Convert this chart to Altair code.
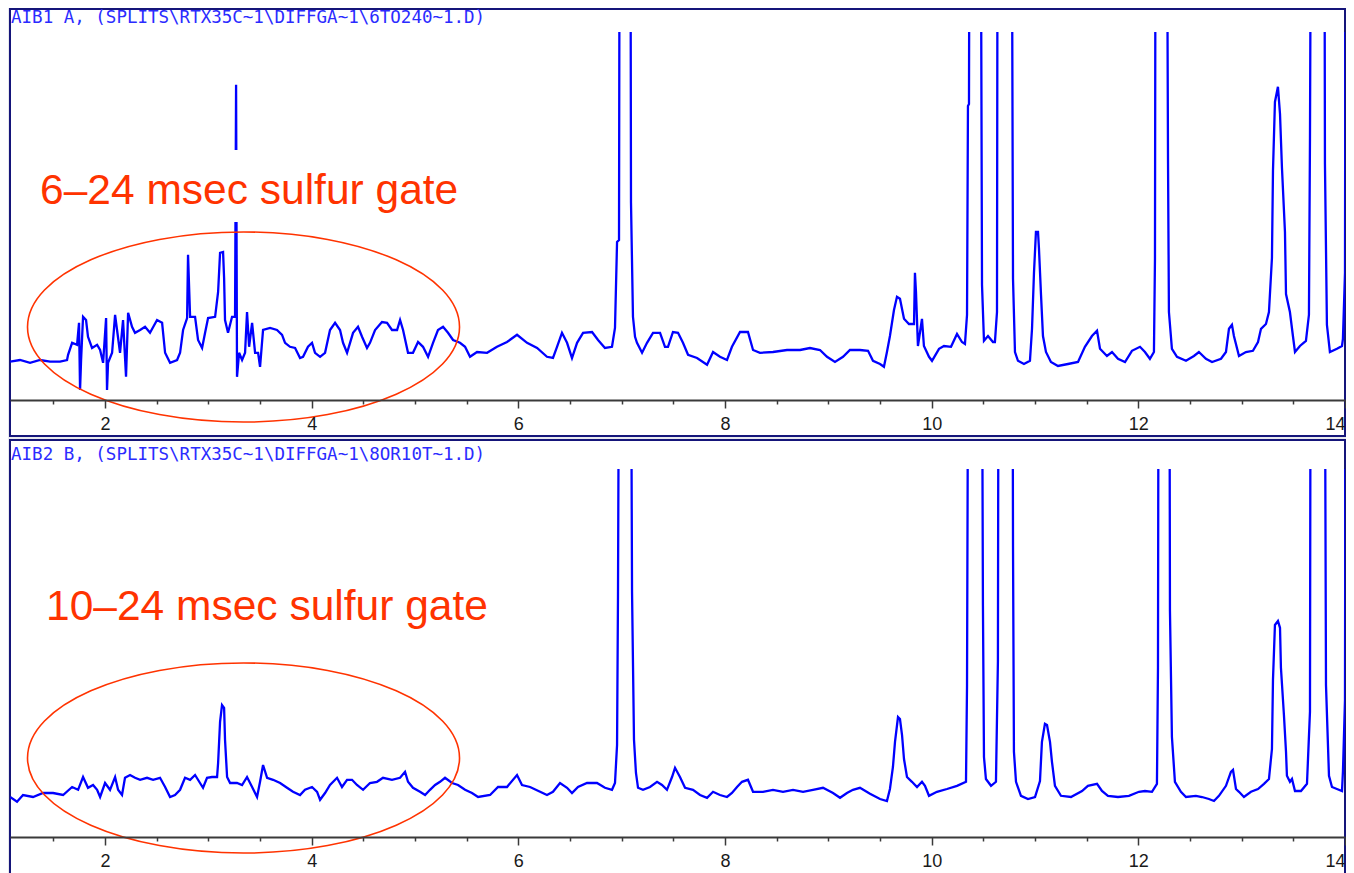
import altair as alt
import pandas as pd

# ---------------- data ----------------
TIME_A = [
    1.081, 1.177, 1.274, 1.371, 1.468, 1.564, 1.632, 1.642, 1.681, 1.729,
    1.748, 1.758, 1.768, 1.787, 1.816, 1.835, 1.874, 1.923, 1.952, 1.981,
    2.010, 2.019, 2.029, 2.068, 2.097, 2.116, 2.145, 2.174, 2.203, 2.223,
    2.261, 2.290, 2.339, 2.387, 2.435, 2.503, 2.552, 2.581, 2.629, 2.697,
    2.726, 2.755, 2.794, 2.803, 2.823, 2.871, 2.900, 2.939, 2.968, 2.997,
    3.065, 3.094, 3.113, 3.142, 3.152, 3.161, 3.190, 3.229, 3.258, 3.268,
    3.277, 3.297, 3.326, 3.355, 3.374, 3.394, 3.423, 3.452, 3.481, 3.500,
    3.529, 3.597, 3.664, 3.713, 3.742, 3.790, 3.839, 3.887, 3.916, 3.964,
    4.003, 4.032, 4.081, 4.129, 4.177, 4.226, 4.274, 4.303, 4.342, 4.371,
    4.400, 4.448, 4.487, 4.535, 4.564, 4.613, 4.680, 4.729, 4.777, 4.826,
    4.855, 4.884, 4.932, 4.980, 5.029, 5.077, 5.126, 5.174, 5.222, 5.271,
    5.319, 5.368, 5.435, 5.484, 5.532, 5.600, 5.697, 5.793, 5.890, 5.987,
    6.084, 6.181, 6.277, 6.335, 6.374, 6.422, 6.471, 6.519, 6.568, 6.626,
    6.713, 6.771, 6.838, 6.906, 6.935, 6.955, 6.974, 6.984, 7.080, 7.090,
    7.109, 7.129, 7.148, 7.197, 7.245, 7.303, 7.371, 7.419, 7.448, 7.496,
    7.545, 7.593, 7.642, 7.729, 7.826, 7.884, 7.951, 8.019, 8.067, 8.145,
    8.222, 8.271, 8.338, 8.464, 8.600, 8.726, 8.822, 8.919, 8.987, 9.064,
    9.142, 9.209, 9.306, 9.384, 9.432, 9.500, 9.538, 9.567, 9.596, 9.635,
    9.664, 9.693, 9.732, 9.780, 9.829, 9.838, 9.848, 9.867, 9.906, 9.925,
    9.974, 10.003, 10.071, 10.119, 10.187, 10.245, 10.293, 10.322, 10.342, 10.351,
    10.361, 10.371, 10.467, 10.487, 10.506, 10.545, 10.593, 10.612, 10.632, 10.641,
    10.767, 10.787, 10.806, 10.835, 10.893, 10.951, 10.971, 10.990, 11.009, 11.029,
    11.038, 11.058, 11.077, 11.106, 11.154, 11.222, 11.319, 11.416, 11.483, 11.551,
    11.600, 11.629, 11.696, 11.745, 11.803, 11.871, 11.938, 12.016, 12.064, 12.112,
    12.151, 12.161, 12.170, 12.267, 12.287, 12.296, 12.325, 12.374, 12.461, 12.538,
    12.586, 12.654, 12.713, 12.800, 12.848, 12.877, 12.906, 12.925, 12.974, 13.041,
    13.109, 13.158, 13.187, 13.235, 13.264, 13.293, 13.303, 13.322, 13.351, 13.371,
    13.390, 13.419, 13.429, 13.467, 13.496, 13.516, 13.564, 13.622, 13.651, 13.661,
    13.680, 13.796, 13.806, 13.825, 13.854, 13.922, 13.971, 13.980, 14.000, 14.009,
]
SIGNAL_A = [
    9.6, 10.0, 9.3, 10.0, 9.6, 9.6, 10.0, 11.3, 14.3, 13.8,
    19.3, 2.5, 10.0, 20.8, 20.0, 15.8, 13.0, 13.8, 12.5, 9.3,
    20.5, 2.5, 9.3, 11.8, 21.3, 17.5, 11.8, 20.0, 5.8, 21.8,
    18.3, 16.8, 17.5, 18.3, 16.8, 20.0, 19.3, 11.8, 9.3, 10.0,
    11.8, 17.5, 20.5, 36.3, 20.8, 20.8, 15.0, 13.0, 16.8, 20.5,
    20.8, 27.0, 36.8, 37.0, 30.5, 20.0, 16.8, 20.8, 20.8, 78.8,
    5.8, 11.8, 10.0, 11.8, 22.0, 13.3, 19.3, 11.8, 11.8, 8.3,
    17.5, 18.0, 17.5, 16.3, 14.3, 13.3, 13.0, 10.5, 10.8, 13.3,
    14.3, 11.8, 10.8, 11.8, 17.5, 19.3, 17.5, 14.3, 11.8, 14.3,
    16.8, 18.3, 15.8, 13.0, 14.3, 17.5, 19.5, 19.3, 17.5, 17.5,
    20.0, 17.5, 11.8, 11.8, 14.5, 13.3, 10.8, 14.3, 17.5, 18.3,
    16.8, 15.0, 14.3, 13.3, 10.8, 12.0, 11.8, 13.3, 14.5, 16.3,
    14.3, 13.0, 10.8, 10.5, 13.3, 16.8, 14.3, 10.5, 14.3, 16.8,
    17.0, 15.0, 13.0, 13.3, 18.0, 39.5, 40.0, 200, 200, 49.3,
    20.8, 15.8, 14.3, 11.8, 14.3, 16.8, 16.8, 13.3, 13.3, 17.0,
    16.8, 14.3, 11.3, 10.5, 8.8, 12.0, 10.8, 10.0, 13.3, 17.0,
    17.0, 12.5, 11.8, 12.0, 12.5, 12.5, 13.0, 12.5, 10.8, 9.5,
    10.8, 12.5, 12.5, 12.3, 9.8, 9.0, 8.3, 12.0, 16.0, 22.5,
    25.8, 25.3, 20.3, 19.0, 19.0, 31.8, 27.0, 13.5, 20.3, 13.5,
    10.8, 9.8, 12.8, 13.5, 13.3, 16.5, 14.5, 14.0, 21.3, 73.5,
    74.0, 200, 200, 28.8, 14.8, 16.0, 14.5, 14.5, 22.0, 200,
    200, 30.3, 12.0, 9.8, 9.0, 9.8, 17.8, 31.8, 42.0, 42.0,
    38.0, 26.3, 16.0, 12.0, 9.5, 8.5, 9.0, 9.5, 13.3, 16.0,
    17.3, 12.8, 11.0, 12.0, 10.3, 9.5, 12.3, 13.3, 12.0, 10.3,
    12.0, 35.5, 200, 200, 60.5, 22.0, 12.8, 10.8, 9.8, 11.0,
    12.0, 10.3, 9.5, 10.3, 12.0, 17.8, 18.8, 16.0, 11.0, 12.0,
    12.3, 14.5, 17.8, 19.0, 22.0, 35.5, 57.3, 74.5, 78.3, 71.5,
    58.0, 42.0, 26.5, 22.0, 16.0, 12.0, 13.5, 14.8, 21.3, 65.3,
    200, 200, 59.0, 18.8, 12.0, 12.8, 13.5, 15.3, 31.8, 200,
]

TIME_B = [
    1.081, 1.148, 1.206, 1.303, 1.400, 1.497, 1.594, 1.681, 1.739, 1.787,
    1.835, 1.884, 1.923, 1.952, 2.000, 2.048, 2.097, 2.126, 2.164, 2.193,
    2.242, 2.290, 2.339, 2.406, 2.465, 2.532, 2.581, 2.629, 2.677, 2.726,
    2.774, 2.823, 2.871, 2.919, 2.948, 2.987, 3.035, 3.084, 3.094, 3.113,
    3.132, 3.152, 3.161, 3.181, 3.210, 3.277, 3.326, 3.374, 3.423, 3.471,
    3.500, 3.529, 3.568, 3.626, 3.694, 3.761, 3.819, 3.887, 3.935, 4.003,
    4.052, 4.081, 4.129, 4.177, 4.245, 4.293, 4.342, 4.390, 4.438, 4.497,
    4.564, 4.632, 4.690, 4.777, 4.855, 4.903, 4.932, 4.980, 5.048, 5.097,
    5.145, 5.194, 5.242, 5.290, 5.358, 5.416, 5.484, 5.551, 5.610, 5.726,
    5.803, 5.890, 5.987, 6.035, 6.113, 6.210, 6.277, 6.335, 6.403, 6.471,
    6.519, 6.577, 6.664, 6.761, 6.838, 6.906, 6.935, 6.955, 6.964, 6.984,
    7.080, 7.100, 7.119, 7.138, 7.158, 7.206, 7.274, 7.342, 7.390, 7.438,
    7.487, 7.516, 7.564, 7.613, 7.690, 7.758, 7.826, 7.884, 7.951, 8.019,
    8.067, 8.116, 8.164, 8.222, 8.271, 8.367, 8.464, 8.561, 8.658, 8.755,
    8.851, 8.948, 9.045, 9.113, 9.180, 9.238, 9.306, 9.403, 9.500, 9.567,
    9.596, 9.625, 9.645, 9.674, 9.693, 9.713, 9.732, 9.761, 9.809, 9.858,
    9.906, 9.935, 9.974, 10.051, 10.148, 10.245, 10.332, 10.342, 10.361, 10.477,
    10.496, 10.506, 10.525, 10.574, 10.622, 10.641, 10.651, 10.777, 10.787, 10.796,
    10.816, 10.864, 10.932, 11.000, 11.048, 11.067, 11.096, 11.116, 11.145, 11.164,
    11.193, 11.251, 11.348, 11.455, 11.512, 11.600, 11.648, 11.706, 11.803, 11.909,
    12.006, 12.064, 12.132, 12.180, 12.190, 12.200, 12.296, 12.306, 12.325, 12.354,
    12.412, 12.461, 12.557, 12.616, 12.683, 12.732, 12.780, 12.848, 12.896, 12.916,
    12.945, 12.974, 13.022, 13.090, 13.158, 13.216, 13.264, 13.293, 13.303, 13.322,
    13.351, 13.371, 13.380, 13.409, 13.429, 13.438, 13.467, 13.487, 13.516, 13.574,
    13.632, 13.661, 13.671, 13.796, 13.816, 13.845, 13.874, 13.922, 13.971, 13.980,
    14.000, 14.009,
]
SIGNAL_B = [
    10.0, 8.8, 10.5, 10.0, 11.0, 11.0, 10.5, 12.5, 11.8, 15.0,
    12.3, 13.0, 11.8, 10.0, 13.5, 11.8, 15.0, 11.8, 10.5, 14.8,
    15.5, 14.8, 14.3, 14.8, 14.3, 14.8, 12.5, 10.0, 10.5, 11.8,
    14.8, 14.3, 15.5, 13.5, 12.3, 14.8, 15.0, 15.0, 18.5, 28.8,
    33.0, 32.3, 24.3, 15.0, 13.5, 13.5, 13.0, 15.0, 12.5, 10.0,
    13.8, 18.0, 14.8, 14.3, 13.5, 12.3, 11.3, 10.5, 11.8, 12.5,
    11.3, 9.3, 11.0, 13.0, 14.8, 12.5, 14.3, 14.3, 13.0, 11.8,
    13.5, 13.8, 14.8, 14.3, 14.8, 16.3, 13.8, 12.3, 11.3, 10.5,
    11.8, 13.0, 13.8, 14.8, 13.5, 13.0, 11.8, 11.0, 10.0, 10.5,
    12.5, 12.5, 15.5, 13.0, 12.5, 11.3, 10.5, 11.3, 13.5, 12.3,
    11.0, 12.5, 13.5, 13.5, 12.3, 11.8, 13.5, 23.0, 60.0, 200,
    200, 61.3, 24.3, 16.0, 12.3, 11.8, 12.5, 13.8, 13.0, 11.8,
    15.0, 17.3, 15.0, 12.3, 11.8, 10.5, 9.8, 11.3, 10.5, 10.0,
    11.0, 12.5, 13.8, 14.3, 11.3, 11.3, 11.8, 11.3, 11.8, 11.3,
    11.8, 12.3, 11.0, 9.8, 11.0, 11.8, 12.3, 10.8, 9.5, 9.0,
    12.0, 17.5, 23.8, 30.0, 29.5, 25.5, 19.5, 15.0, 13.8, 12.5,
    13.8, 12.8, 10.3, 11.3, 12.0, 12.8, 13.8, 38.0, 200, 200,
    57.8, 20.0, 14.5, 12.8, 13.8, 44.0, 200, 200, 72.8, 21.3,
    13.8, 10.3, 9.5, 10.0, 14.0, 23.8, 28.3, 28.0, 23.8, 18.8,
    12.8, 10.3, 10.0, 11.5, 12.8, 13.3, 11.5, 10.3, 10.0, 10.3,
    11.3, 11.5, 11.3, 13.3, 42.3, 200, 200, 56.5, 25.0, 13.8,
    11.3, 10.0, 10.3, 10.0, 9.5, 9.0, 10.3, 12.8, 16.3, 16.8,
    12.0, 11.3, 10.0, 11.3, 12.0, 13.3, 14.5, 22.0, 39.3, 53.0,
    54.0, 52.3, 42.3, 30.5, 21.3, 15.3, 13.8, 14.5, 11.5, 11.5,
    13.3, 31.3, 200, 200, 38.0, 15.3, 12.5, 12.0, 11.5, 16.3,
    34.3, 200,
]

TICK_VALUES = [1.5, 2.0, 2.5, 3.0, 3.5, 4.0, 4.5, 5.0, 5.5, 6.0, 6.5, 7.0,
               7.5, 8.0, 8.5, 9.0, 9.5, 10.0, 10.5, 11.0, 11.5, 12.0, 12.5,
               13.0, 13.5, 14.0]

TITLE_A = r"AIB1 A, (SPLITS\RTX35C~1\DIFFGA~1\6TO240~1.D)"
TITLE_B = r"AIB2 B, (SPLITS\RTX35C~1\DIFFGA~1\8OR10T~1.D)"
NOTE_A = "6–24 msec sulfur gate"
NOTE_B = "10–24 msec sulfur gate"

# ---------------- styling / layout ----------------
X_DOMAIN = [1.08, 14.0]
Y_DOMAIN = [0, 92]
NAVY = "#15157a"
TRACE = "#0000ff"
RED = "#ff3300"
BG = "#e8e9ee"
ELLIPSE = "M -1 0 A 1 0.44 0 1 1 1 0 A 1 0.44 0 1 1 -1 0 Z"

XS = alt.Scale(domain=X_DOMAIN, nice=False, zero=False)
YS = alt.Scale(domain=Y_DOMAIN, nice=False, zero=False)

AXIS = alt.Axis(
    values=TICK_VALUES, title=None, grid=False,
    domainColor="#3a3a3a", domainWidth=2,
    tickColor="#3a3a3a", tickWidth=1.5,
    tickSize={"condition": {"test": "datum.value % 2 === 0", "value": 8}, "value": 4},
    labelExpr="datum.value % 2 === 0 ? format(datum.value, 'd') : ''",
    labelFont="Liberation Sans", labelFontSize=18, labelColor="#1a1a1a",
    labelPadding=7, labelFlush=True, labelOverlap=False, zindex=1,
)


def X(field):
    return alt.X(field, type="quantitative", scale=XS, axis=AXIS)


def Y(field):
    return alt.Y(field, type="quantitative", scale=YS, axis=None)


def panel(times, signals, title, note, note_at, ring_at, box, mask=None):
    frame = alt.Chart(pd.DataFrame([box])).mark_rect(
        fill="white", stroke=NAVY, strokeWidth=2
    ).encode(x=X("x1"), x2=alt.X2("x2"), y=Y("y1"), y2=alt.Y2("y2"))

    trace = alt.Chart(pd.DataFrame({"t": times, "s": signals})).mark_line(
        color=TRACE, strokeWidth=2.3, clip=True
    ).encode(x=X("t"), y=Y("s"), order="t:Q")

    layers = [frame, trace]
    if mask is not None:
        layers.append(
            alt.Chart(pd.DataFrame([mask])).mark_rect(fill="white", strokeWidth=0)
            .encode(x=X("x1"), x2=alt.X2("x2"), y=Y("y1"), y2=alt.Y2("y2"))
        )

    ring = alt.Chart(pd.DataFrame([ring_at])).mark_point(
        shape=ELLIPSE, size=186624, filled=False, color=RED,
        strokeWidth=1.6, opacity=1
    ).encode(x=X("t"), y=Y("s"))

    label = alt.Chart(pd.DataFrame([dict(note_at, text=note)])).mark_text(
        align="left", baseline="alphabetic", font="Liberation Sans",
        fontSize=42.5, color=RED
    ).encode(x=X("t"), y=Y("s"), text="text:N")

    head = alt.Chart(pd.DataFrame([{"t": 1.09, "s": 94.25, "text": title}])).mark_text(
        align="left", baseline="alphabetic", font="DejaVu Sans Mono",
        fontSize=17.5, color="#2b2bff"
    ).encode(x=X("t"), y=Y("s"), text="text:N")

    layers += [ring, label, head]
    return alt.layer(*layers).properties(width=1335, height=368)


top = panel(
    TIME_A, SIGNAL_A, TITLE_A, NOTE_A,
    note_at={"t": 1.371, "s": 49.0},
    ring_at={"t": 3.34, "s": 18.25},
    box={"x1": 1.08, "x2": 14.0, "y1": -9.0, "y2": 97.75},
    mask={"x1": 1.274, "x2": 5.581, "y1": 44.5, "y2": 62.5},
)
bottom = panel(
    TIME_B, SIGNAL_B, TITLE_B, NOTE_B,
    note_at={"t": 1.429, "s": 54.25},
    ring_at={"t": 3.34, "s": 19.75},
    box={"x1": 1.08, "x2": 14.0, "y1": -10.75, "y2": 99.25},
)

chart = alt.vconcat(top, bottom, spacing=69, bounds="flush").properties(
    padding={"left": 1, "top": 0, "right": 0, "bottom": 0},
    background=BG,
).configure_view(stroke=None)

chart.save("out.html", embed_options={"renderer": "svg", "actions": False})
